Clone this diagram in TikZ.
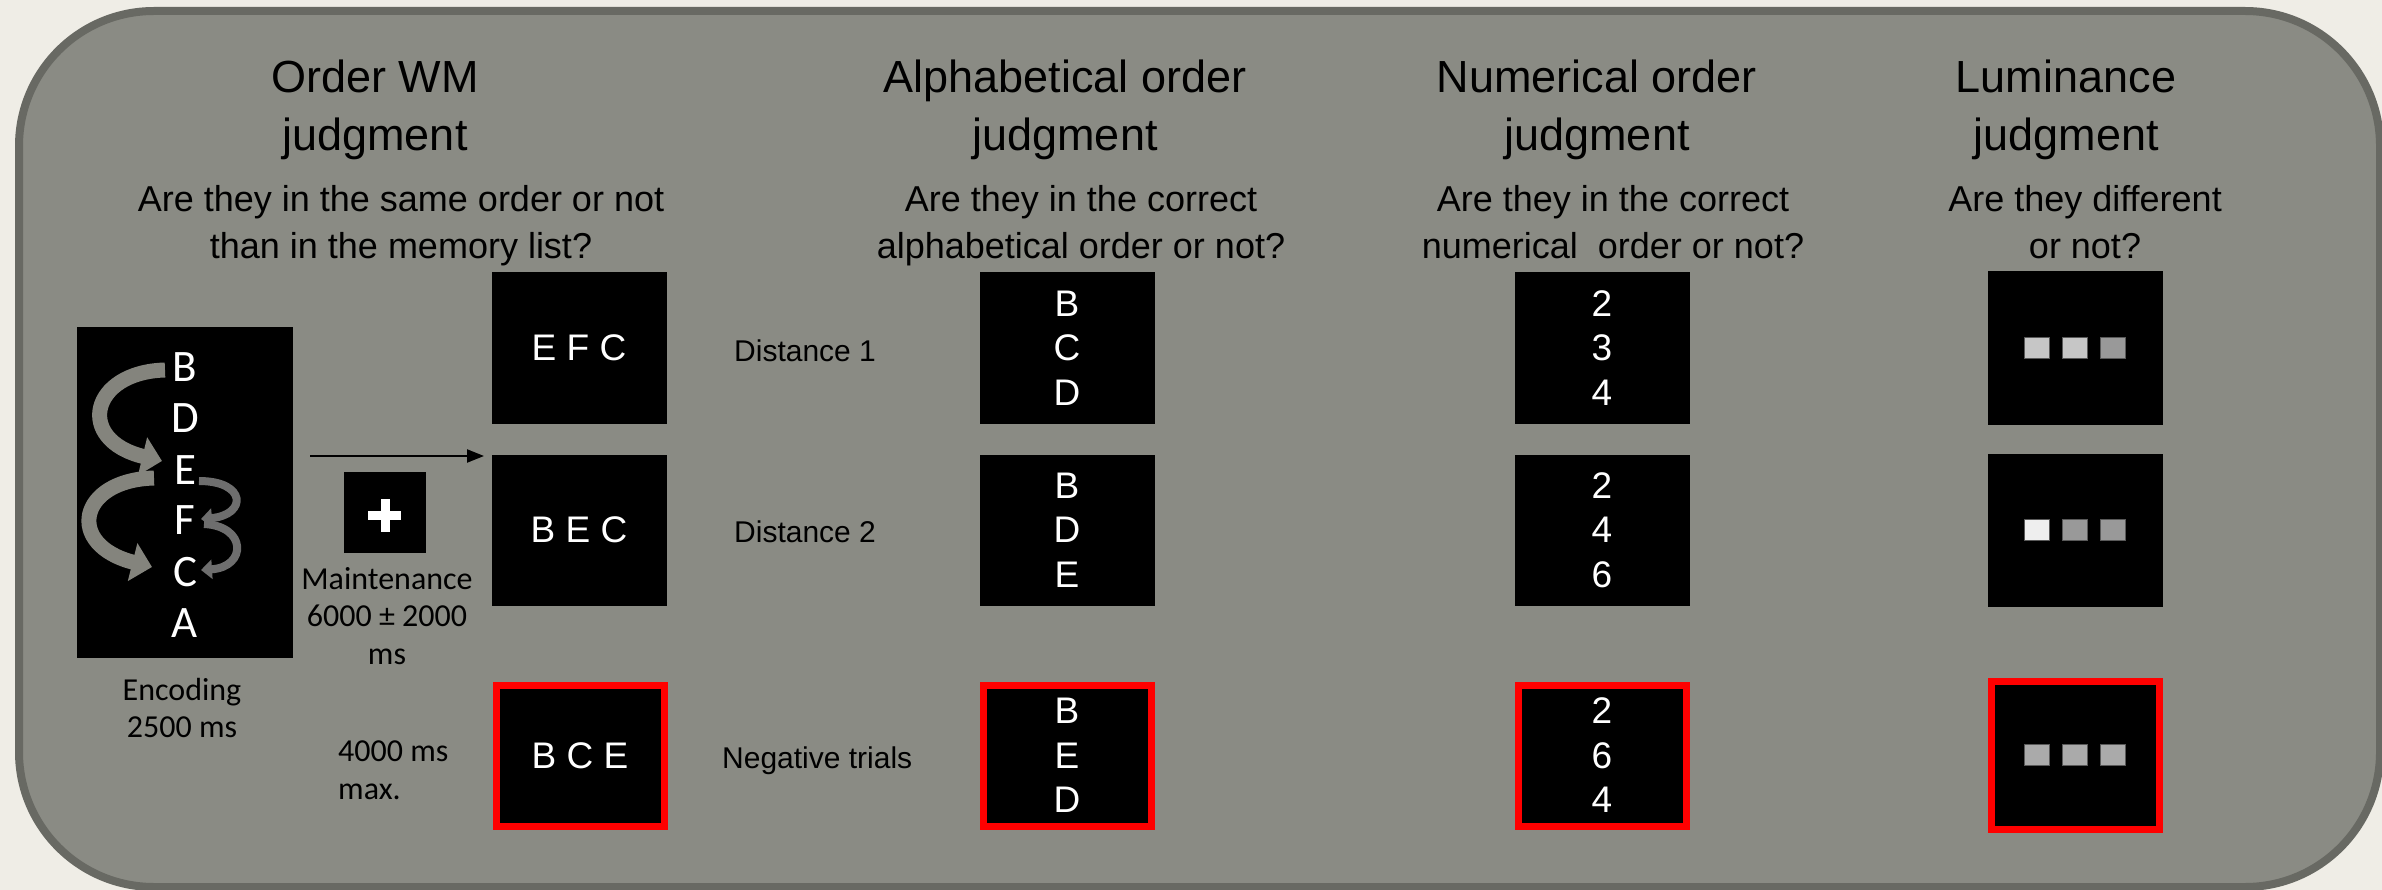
\documentclass[tikz,border=0pt]{standalone}
\usepackage{fontspec}
\setmainfont{Liberation Sans}
\newfontfamily\calfont{Carlito}
\usetikzlibrary{arrows.meta}
\definecolor{pagebg}{RGB}{239,237,230}
\definecolor{panel}{RGB}{138,139,132}
\definecolor{panelline}{RGB}{104,105,99}
\definecolor{arrowlight}{RGB}{132,132,125}
\definecolor{arrowedge}{RGB}{190,190,184}
\definecolor{arrowdark}{RGB}{110,110,110}
\definecolor{lumA}{RGB}{198,198,198}
\definecolor{lumB}{RGB}{153,153,153}
\definecolor{lumW}{RGB}{238,238,238}
\definecolor{lumC}{RGB}{170,170,170}
\definecolor{negred}{RGB}{255,0,0}
\begin{document}
\begin{tikzpicture}[x=1pt,y=-1pt,
  title/.style={font=\fontsize{45}{58}\selectfont, align=center, inner sep=0pt},
  question/.style={font=\fontsize{36}{47}\selectfont, align=center, inner sep=0pt},
  clabel/.style={font=\calfont\fontsize{32}{37.5}\selectfont, align=center, inner sep=0pt},
  dlabel/.style={font=\fontsize{30}{36}\selectfont, anchor=west, inner sep=0pt},
  stim/.style={fill=black, inner sep=0pt, text=white, align=center,
    font=\fontsize{37}{44.5}\selectfont, minimum width=175pt, minimum height=151pt},
  negstim/.style={stim, draw=negred, line width=7pt, minimum width=168pt, minimum height=141pt},
  enclet/.style={text=white, inner sep=0pt, font=\calfont\fontsize{45}{50}\selectfont},
  lsq/.style={inner sep=0pt, minimum width=25pt, minimum height=21pt, draw=black!65, line width=0.8pt},
  curvearrow/.style={line width=15pt, draw=arrowlight, -{Triangle[length=20pt,width=38pt]}},
  smallcurve/.style={line width=8pt, draw=arrowdark, -{Triangle[length=11pt,width=19pt]}}
]
\fill[pagebg] (0,0) rectangle (2382,890);
\useasboundingbox (0,0) rectangle (2382,890);
\draw[draw=panelline, fill=panel, line width=8pt, rounded corners=135pt] (19,11) rectangle (2380,887);

% titles
\node[title] (t1) at (375,109.5) {\strut Order WM\\judgment\strut};
\node[title] (t2) at (1065,109.5) {\strut Alphabetical order\\judgment\strut};
\node[title] (t3) at (1597,109.5) {\strut Numerical order\\judgment\strut};
\node[title] (t4) at (2066,109.5) {\strut Luminance\\judgment\strut};
\node[question] (q1) at (401,225.5) {\strut Are they in the same order or not\\than in the memory list?\strut};
\node[question] (q2) at (1081,225.5) {\strut Are they in the correct\\alphabetical order or not?\strut};
\node[question] (q3) at (1613,225.5) {\strut Are they in the correct\\numerical\ \ order or not?\strut};
\node[question] (q4) at (2085,225.5) {\strut Are they different\\or not?\strut};

% encoding
\node[fill=black, inner sep=0pt, minimum width=216pt, minimum height=331pt] (enc) at (185,492.5) {};
\node[enclet] (lB) at (185,367) {B};
\node[enclet] (lD) at (185,418) {D};
\node[enclet] (lE) at (185,470) {E};
\node[enclet] (lF) at (185,520) {F};
\node[enclet] (lC) at (185,572) {C};
\node[enclet] (lA) at (185,623) {A};
\draw[curvearrow] (165,370) .. controls (90,372) and (75,440) .. (162,461);
\draw[curvearrow] (154,478) .. controls (78,480) and (65,545) .. (152,567);
\draw[smallcurve] (199,481) .. controls (247,481) and (247,515) .. (201,519);
\draw[smallcurve] (204,524) .. controls (247,526) and (247,567) .. (201,570);
\node[clabel] (encl) at (182,708) {Encoding\\2500 ms};

% maintenance
\node[fill=black, inner sep=0pt, minimum width=82pt, minimum height=81pt] (fix) at (385,512.5) {};
\draw[white, line width=9pt] (368,515) -- (401,515);
\draw[white, line width=9pt] (385,499) -- (385,532);
\node[clabel] (maint) at (387,616) {Maintenance\\6000 ± 2000\\ms};
\coordinate (arrS) at (310,456);
\coordinate (arrE) at (484,456);
\draw[line width=2.2pt, -{Triangle[length=17pt,width=13pt]}] (arrS) -- (arrE);
\node[clabel, align=left, anchor=west] (maxl) at (338,770) {4000 ms\\max.};

% order WM probes
\node[stim] (o1) at (579,348) {E F C};
\node[stim] (o2) at (579,530) {B E C};
\node[negstim] (o3) at (580,755.5) {B C E};
\node[dlabel] (d1) at (734,351) {Distance 1};
\node[dlabel] (d2) at (734,532) {Distance 2};
\node[dlabel] (d3) at (722,761) {Negative trials};

% alphabetical
\node[stim] (a1) at (1067,348) {B\\C\\D};
\node[stim] (a2) at (1067,530) {B\\D\\E};
\node[negstim] (a3) at (1067,755.5) {B\\E\\D};

% numerical
\node[stim] (n1) at (1602,348) {2\\3\\4};
\node[stim] (n2) at (1602,530) {2\\4\\6};
\node[negstim] (n3) at (1602,755.5) {2\\6\\4};

% luminance
\node[stim, minimum height=154pt] (l1) at (2075,348) {};
\node[stim, minimum height=153pt] (l2) at (2075,530.5) {};
\node[negstim, minimum height=148pt] (l3) at (2075,755.5) {};
\node[lsq, fill=lumA] (s11) at (2037,347.5) {};
\node[lsq, fill=lumA] (s12) at (2075,347.5) {};
\node[lsq, fill=lumB] (s13) at (2113,347.5) {};
\node[lsq, fill=lumW] (s21) at (2037,529.5) {};
\node[lsq, fill=lumB] (s22) at (2075,529.5) {};
\node[lsq, fill=lumB] (s23) at (2113,529.5) {};
\node[lsq, fill=lumC] (s31) at (2037,754.5) {};
\node[lsq, fill=lumC] (s32) at (2075,754.5) {};
\node[lsq, fill=lumC] (s33) at (2113,754.5) {};
\end{tikzpicture}
\end{document}
